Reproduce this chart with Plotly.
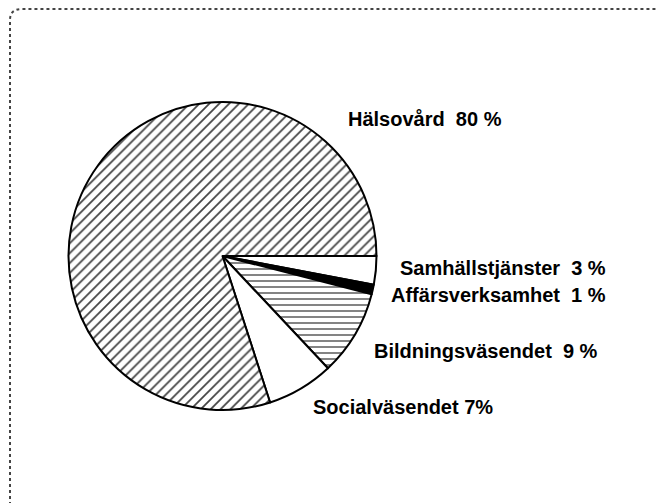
import plotly.graph_objects as go

# slices, clockwise from 3 o'clock
sectors = ["Samhällstjänster", "Affärsverksamhet", "Bildningsväsendet",
           "Socialväsendet", "Hälsovård"]
shares = [3, 1, 9, 7, 80]
share_text = ["3 %", "1 %", "9 %", "7%", "80 %"]

W, H = 665, 503
OFF = 8  # page body margin, so positions below are shifted back by it

cx, cy, r = 222.5 - OFF, 256 - OFF, 154

fig = go.Figure(go.Pie(
    labels=sectors,
    values=shares,
    sort=False,
    direction="clockwise",
    rotation=90,
    textinfo="none",
    hoverinfo="label+value",
    domain=dict(x=[(cx - r) / W, (cx + r) / W],
                y=[(H - cy - r) / H, (H - cy + r) / H]),
    marker=dict(
        colors=["white", "black", "white", "white", "white"],
        line=dict(color="black", width=2),
        pattern=dict(
            shape=["", "", "-", "", "/"],
            fgcolor=["black", "black", "#444", "black", "#444"],
            bgcolor="white",
            size=[6, 6, 6, 6, 7],
            solidity=[0.2, 0.2, 0.22, 0.2, 0.25],
            fillmode="replace",
        ),
    ),
))

# label placement (px from left / top of the page)
label_pos = {
    "Hälsovård": (346, 119, "left"),
    "Samhällstjänster": (608, 268, "right"),
    "Affärsverksamhet": (608, 295, "right"),
    "Bildningsväsendet": (372, 351, "left"),
    "Socialväsendet": (311, 407, "left"),
}
for name, pct in zip(sectors, share_text):
    x, y, anchor = label_pos[name]
    gap = " " if name == "Socialväsendet" else "  "
    fig.add_annotation(
        x=(x - OFF) / W, y=1 - (y - OFF) / H, xref="paper", yref="paper",
        text=f"<b>{name}{gap}{pct}</b>",
        showarrow=False, xanchor=anchor, yanchor="middle",
        font=dict(family="Liberation Sans", size=20, color="black"),
    )

# scanned frame: rounded corner, top and left edges only
fx, fy = 10 - OFF, 9 - OFF
fig.add_shape(
    type="path", xref="paper", yref="paper",
    path=f"M {fx / W},0 L {fx / W},{1 - (fy + 11) / H} "
         f"Q {fx / W},{1 - fy / H} {(fx + 12) / W},{1 - fy / H} L 1,{1 - fy / H}",
    line=dict(color="#444", width=2, dash="dot"),
)

fig.update_layout(
    width=W, height=H,
    margin=dict(l=0, r=0, t=0, b=0),
    paper_bgcolor="white",
    plot_bgcolor="white",
    showlegend=False,
)

fig.write_html("out.html")
